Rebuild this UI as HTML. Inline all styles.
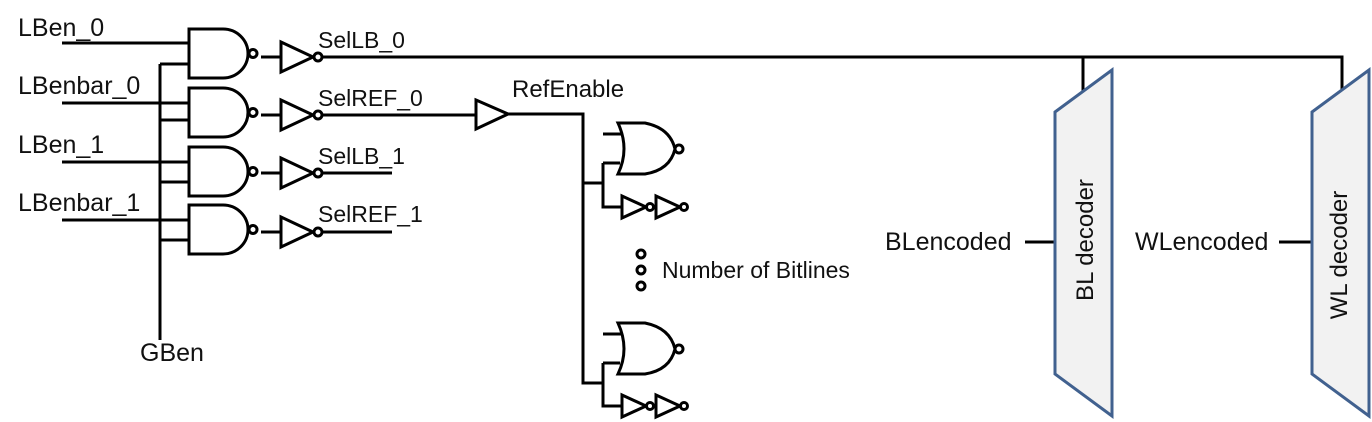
<!DOCTYPE html>
<html><head><style>body{margin:0;background:#fff}svg{display:block}text{font-family:"Liberation Sans",sans-serif;font-size:25px;fill:#111}</style></head><body>
<svg width="1372" height="422" viewBox="0 0 1372 422" xmlns="http://www.w3.org/2000/svg">
<defs>
<g id="nand"><path d="M0,0 H34 A25,24.5 0 0 1 34,49 H0 Z" fill="#fff" stroke="#000" stroke-width="3"/><circle cx="64" cy="24.5" r="4" fill="#fff" stroke="#000" stroke-width="3"/></g>
<g id="inv"><path d="M0,0 L32,15 L0,30 Z" fill="#fff" stroke="#000" stroke-width="3"/><circle cx="37" cy="15" r="4" fill="#fff" stroke="#000" stroke-width="3"/></g>
<g id="sinv"><path d="M0,0 L24,11 L0,22 Z" fill="#fff" stroke="#000" stroke-width="3"/><circle cx="28" cy="11" r="3.5" fill="#fff" stroke="#000" stroke-width="3"/></g>
<g id="nor"><path d="M0,0 H27 Q52,5 57,26 Q52,47 27,51 H0 Q12,26 0,0 Z" fill="#fff" stroke="#000" stroke-width="3"/><circle cx="61" cy="26" r="4" fill="#fff" stroke="#000" stroke-width="3"/></g>
</defs>
<g stroke="#000" stroke-width="3" fill="none">
<path d="M62,43 H189 M62,103 H189 M62,162 H189 M62,220 H189"/>
<path d="M160,64 V340 M160,64 H189 M160,120 H189 M160,182 H189 M160,240 H189"/>
<path d="M261,57 H280 M261,115 H280 M261,173 H280 M261,232 H280"/>
<path d="M322,57 H1342 V90 M1083,57 V92 M322,115 H476 M322,173 H392 M322,232 H392"/>
<path d="M508,114 H583 V383 H603 M583,183 H603 M603,163 V207 H621 M603,163 H620 M603,134 H625 M603,363 V406 H621 M603,363 H620 M603,334 H625"/>
<path d="M1025,242 H1055 M1279,242 H1312"/>
</g>
<use href="#nand" x="189" y="29"/><use href="#nand" x="189" y="88"/><use href="#nand" x="189" y="147"/><use href="#nand" x="189" y="205"/>
<use href="#inv" x="281" y="42"/><use href="#inv" x="281" y="100"/><use href="#inv" x="281" y="158"/><use href="#inv" x="281" y="217"/>
<path d="M476,100 L508,114 L476,129 Z" fill="#fff" stroke="#000" stroke-width="3"/>
<use href="#nor" x="618" y="123"/><use href="#nor" x="618" y="323"/>
<use href="#sinv" x="622" y="196"/><use href="#sinv" x="656" y="196"/>
<use href="#sinv" x="622" y="395"/><use href="#sinv" x="656" y="395"/>
<g fill="#fff" stroke="#000" stroke-width="3"><circle cx="641" cy="254" r="4"/><circle cx="641" cy="270" r="4"/><circle cx="641" cy="286" r="4"/></g>
<path d="M1055,112 L1112,70 L1112,416 L1055,374 Z" fill="#f2f2f2" stroke="#41618f" stroke-width="3"/>
<path d="M1312,112 L1369,70 L1369,416 L1312,374 Z" fill="#f2f2f2" stroke="#41618f" stroke-width="3"/>
<text x="18" y="36">LBen_0</text><text x="18" y="94">LBenbar_0</text><text x="18" y="153">LBen_1</text><text x="18" y="211">LBenbar_1</text>
<text x="318" y="48" style="font-size:23px">SelLB_0</text><text x="318" y="106" style="font-size:23px">SelREF_0</text><text x="318" y="164" style="font-size:23px">SelLB_1</text><text x="318" y="222" style="font-size:23px">SelREF_1</text>
<text x="512" y="97" style="font-size:24px">RefEnable</text><text x="140" y="361">GBen</text>
<text x="662" y="278" style="font-size:23px">Number of Bitlines</text>
<text x="885" y="250" style="font-size:25px">BLencoded</text><text x="1135" y="250" style="font-size:25px">WLencoded</text>
<text transform="translate(1093,240) rotate(-90)" text-anchor="middle" style="font-size:24px">BL decoder</text>
<text transform="translate(1347,255) rotate(-90)" text-anchor="middle" style="font-size:24px">WL decoder</text>
</svg>
</body></html>
